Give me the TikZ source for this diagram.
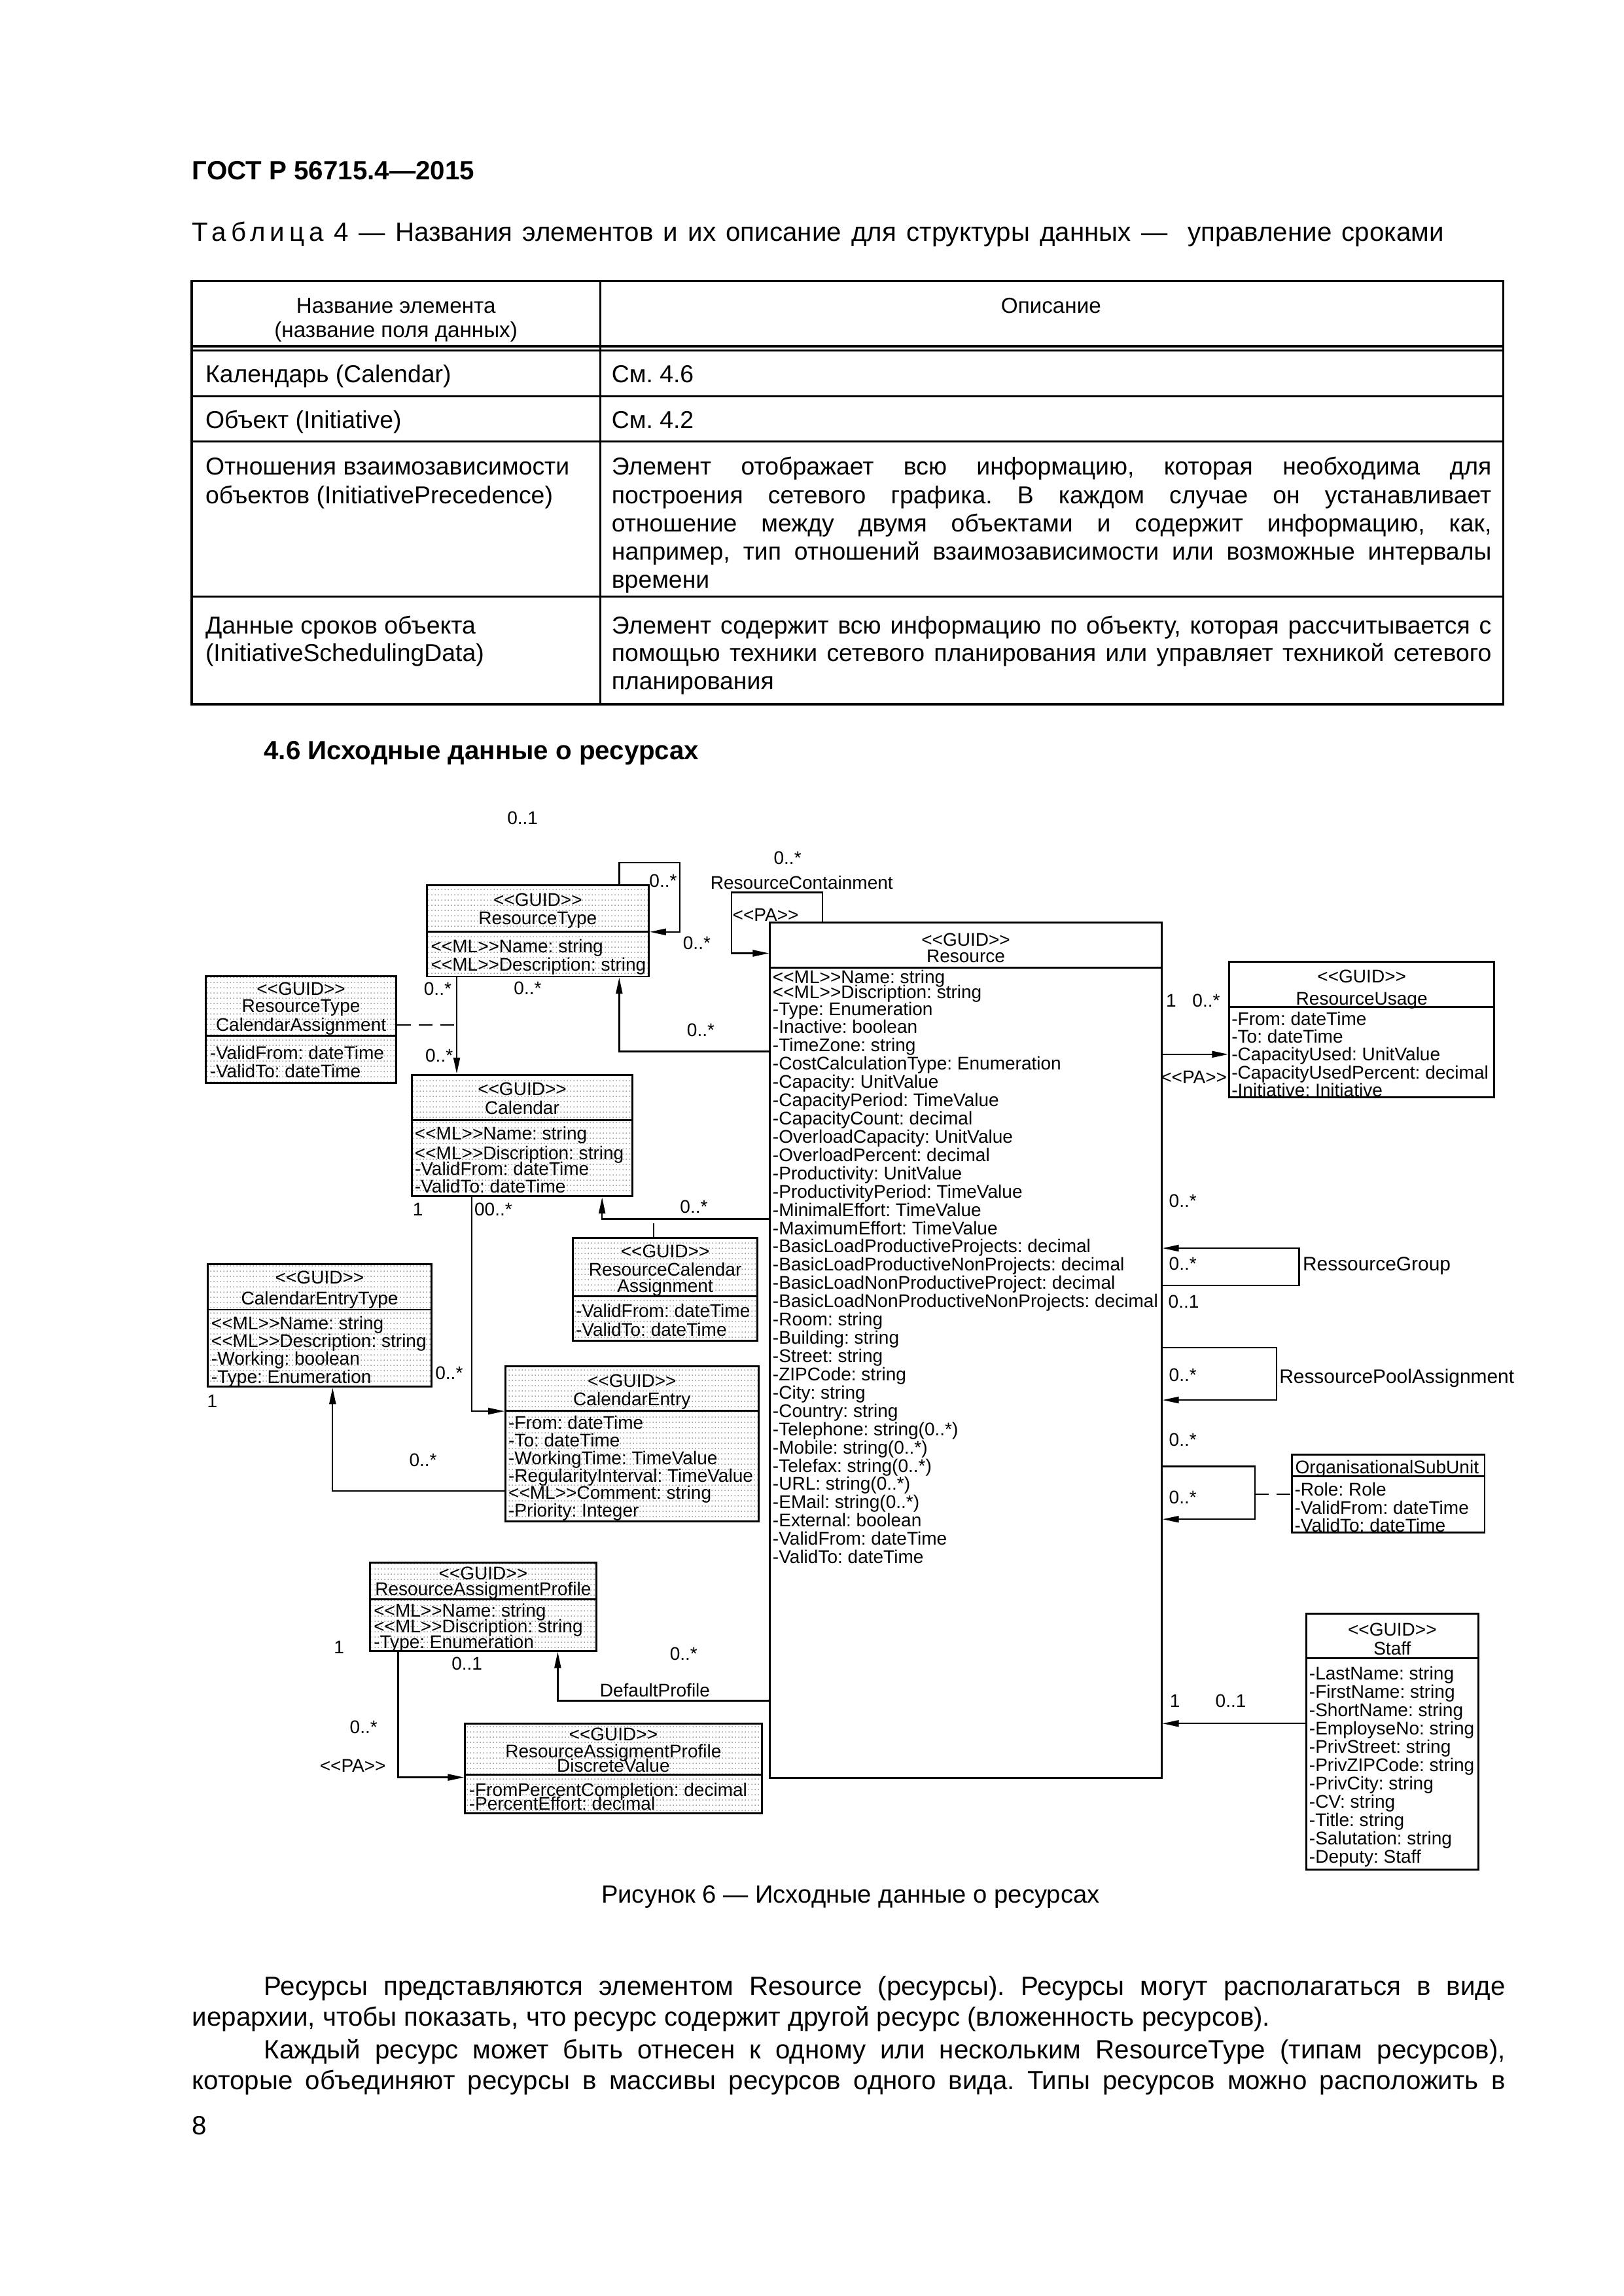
\documentclass[tikz,border=0pt]{standalone}
\usepackage{fontspec}
\setmainfont{Liberation Sans}
\newfontfamily\umlfont{Liberation Sans}
\usetikzlibrary{arrows.meta,fit,patterns}
\pgfdeclarepatternformonly{umldots}{\pgfqpoint{0pt}{0pt}}{\pgfqpoint{1.1pt}{2pt}}{\pgfqpoint{1.1pt}{2pt}}{\pgfpathcircle{\pgfqpoint{0.55pt}{1pt}}{0.22pt}\pgfusepath{fill}}
\newcommand\stereo[1]{<<#1>>}
\frenchspacing
\tikzset{
  cls/.style={draw, line width=0.7pt, inner sep=0pt},
  clsdot/.style={cls, pattern=umldots, pattern color=black!55},
  ttl/.style={inner sep=0pt, text height=0.62em, text depth=0pt, font=\umlfont\fontsize{6.75}{6.75}\selectfont},
  att/.style={ttl, anchor=west},
  nav/.style={line width=0.55pt, -{Triangle[length=6pt,width=2.4pt]}},
  lnk/.style={line width=0.55pt, dash pattern=on 5pt off 3pt},
  txt/.style={inner sep=0pt, text height=0.62em, text depth=0pt, anchor=west, font=\fontsize{9.7}{11}\selectfont},
  tabtxt/.style={txt, font=\fontsize{9}{10}\selectfont},
  tbl/.style={line width=0.8pt}
}
\begin{document}
\begin{tikzpicture}[x=0.5388pt, y=-0.5388pt, line join=miter]
\path[fill=white, use as bounding box] (0,0) rectangle (1109,1568);

% page head and table
\node[txt, font=\bfseries\fontsize{9.7}{11}\selectfont] (gost) at (131,117) {ГОСТ Р 56715.4—2015};
\node[txt] (tabcap) at (131,159) {\makebox[460.7pt][s]{{\addfontfeature{LetterSpace=18}Таблица} 4 — Названия элементов и их описание для структуры данных —\ \ управление сроками}};
\draw[tbl] (131,192) rectangle (1027,481);
\draw[tbl] (410,192) -- (410,481);
\draw[tbl] (131,236.5) -- (1027,236.5) (131,239.5) -- (1027,239.5);
\draw[tbl] (131,270.5) -- (1027,270.5) (131,301.5) -- (1027,301.5) (131,407.5) -- (1027,407.5);
\node[tabtxt, anchor=center, font=\fontsize{8}{9}\selectfont] (th1) at (270.5,208) {Название элемента};
\node[tabtxt, anchor=center, font=\fontsize{8}{9}\selectfont] (th2) at (270.5,224.5) {(название поля данных)};
\node[tabtxt, anchor=center, font=\fontsize{8}{9}\selectfont] (th3) at (718,208) {Описание};
\foreach \y/\t [count=\k] in {255.5/Календарь (Calendar), 287/Объект (Initiative), 318.5/Отношения взаимозависимости,
    338/объектов (InitiativePrecedence), 427/Данные сроков объекта, 446/(InitiativeSchedulingData)}
  \node[tabtxt] (tl\k) at (140,\y) {\t};
\node[tabtxt] (tr1) at (417.5,255.5) {См. 4.6};
\node[tabtxt] (tr2) at (417.5,287) {См. 4.2};
\foreach \y/\t [count=\k from 3] in {318.5/Элемент отображает всю информацию{,} которая необходима для,
    338/построения сетевого графика. В каждом случае он устанавливает,
    357.5/отношение между двумя объектами и содержит информацию{,} как{,},
    376.5/например{,} тип отношений взаимозависимости или возможные интервалы,
    427/Элемент содержит всю информацию по объекту{,} которая рассчитывается с,
    446/помощью техники сетевого планирования или управляет техникой сетевого}
  \node[tabtxt] (tr\k) at (417.5,\y) {\makebox[323.8pt][s]{\t}};
\node[tabtxt] (tr9) at (417.5,396) {времени};
\node[tabtxt] (tr10) at (417.5,465) {планирования};
\node[txt, font=\bfseries\fontsize{9.7}{11}\selectfont] (sec) at (180,513) {4.6 Исходные данные о ресурсах};

% classes
\node[clsdot, fit={(291.5,604.5) (443.2,666.9)}] (restype) {};
\node[clsdot, fit={(140.7,666.8) (270.6,739.7)}] (rtcal) {};
\node[clsdot, fit={(281.4,734) (432,817)}] (cal) {};
\node[cls, fit={(526,630) (793.5,1214)}] (res) {};
\node[cls, fit={(839.7,656.7) (1020.8,749.3)}] (resuse) {};
\node[clsdot, fit={(391.5,845.5) (517.3,915.5)}] (rescal) {};
\node[clsdot, fit={(142,863.3) (294.7,947.1)}] (cetype) {};
\node[clsdot, fit={(345.3,932.9) (518.1,1039.1)}] (centry) {};
\node[clsdot, fit={(252.7,1067.3) (407.4,1127.4)}] (rap) {};
\node[clsdot, fit={(317.7,1177) (520.3,1238.4)}] (rapdv) {};
\node[cls, fit={(882.4,993.4) (1014.2,1046.7)}] (orgsub) {};
\node[cls, fit={(892.4,1102) (1009.8,1276.7)}] (staff) {};
\foreach \n/\y in {restype/636.4, rtcal/707.2, cal/765, res/661, resuse/687.5, rescal/885.4,
    cetype/894.4, centry/963.5, rap/1092.3, rapdv/1212, orgsub/1008.3, staff/1132.6}
  \draw[line width=0.7pt] (\n.west |- 0,\y) -- (\n.east |- 0,\y);

% class titles
\foreach \n/\y/\t [count=\k] in {restype/613/\stereo{GUID}, restype/625.4/ResourceType,
    rtcal/673.8/\stereo{GUID}, rtcal/685.7/ResourceType, rtcal/698.5/CalendarAssignment,
    cal/742.3/\stereo{GUID}, cal/755/Calendar, res/640.4/\stereo{GUID}, res/651.3/Resource,
    resuse/665.5/\stereo{GUID}, resuse/680.5/ResourceUsage,
    rescal/853.2/\stereo{GUID}, rescal/865.5/ResourceCalendar, rescal/877/Assignment,
    cetype/871/\stereo{GUID}, cetype/885.1/CalendarEntryType,
    centry/941.5/\stereo{GUID}, centry/954.1/CalendarEntry,
    rap/1073/\stereo{GUID}, rap/1083.6/ResourceAssigmentProfile,
    rapdv/1182.8/\stereo{GUID}, rapdv/1194.6/ResourceAssigmentProfile, rapdv/1204.4/DiscreteValue,
    staff/1111.4/\stereo{GUID}, staff/1124.4/Staff}
  \node[ttl] (ttl\k) at (\n.north |- 0,\y) {\t};
\node[att] (orgsub-t) at (884.5,1000.5) {OrganisationalSubUnit};

% attributes
\foreach \t [count=\i] in {\stereo{ML}Name: string, \stereo{ML}Description: string}
  \node[att] (restype-a\i) at (294,{644.6+(\i-1)*12.8}) {\t};
\foreach \t [count=\i] in {-ValidFrom: dateTime, -ValidTo: dateTime}
  \node[att] (rtcal-a\i) at (143,{717.6+(\i-1)*12.8}) {\t};
\foreach \y/\t [count=\i] in {772.5/\stereo{ML}Name: string, 786/\stereo{ML}Discription: string,
    796.6/-ValidFrom: dateTime, 809/-ValidTo: dateTime}
  \node[att] (cal-a\i) at (283,\y) {\t};
\node[att] (res-a1) at (527.5,666) {\stereo{ML}Name: string};
\node[att] (res-a2) at (527.5,676.3) {\stereo{ML}Discription: string};
\foreach \t [count=\i from 3] in {-Type: Enumeration, -Inactive: boolean, -TimeZone: string,
    -CostCalculationType: Enumeration, -Capacity: UnitValue, -CapacityPeriod: TimeValue,
    -CapacityCount: decimal, -OverloadCapacity: UnitValue, -OverloadPercent: decimal,
    -Productivity: UnitValue, -ProductivityPeriod: TimeValue, -MinimalEffort: TimeValue,
    -MaximumEffort: TimeValue, -BasicLoadProductiveProjects: decimal,
    -BasicLoadProductiveNonProjects: decimal, -BasicLoadNonProductiveProject: decimal,
    -BasicLoadNonProductiveNonProjects: decimal, -Room: string, -Building: string,
    -Street: string, -ZIPCode: string, -City: string, -Country: string,
    -Telephone: string(0..*), -Mobile: string(0..*), -Telefax: string(0..*),
    -URL: string(0..*), -EMail: string(0..*), -External: boolean,
    -ValidFrom: dateTime, -ValidTo: dateTime}
  \node[att] (res-a\i) at (527.5,{687.5+(\i-3)*12.48}) {\t};
\foreach \t [count=\i] in {-From: dateTime, -To: dateTime, -CapacityUsed: UnitValue,
    -CapacityUsedPercent: decimal, -Initiative: Initiative}
  \node[att] (resuse-a\i) at (841,{694.3+(\i-1)*12.2}) {\t};
\foreach \t [count=\i] in {-ValidFrom: dateTime, -ValidTo: dateTime}
  \node[att] (rescal-a\i) at (393,{894+(\i-1)*12.6}) {\t};
\foreach \t [count=\i] in {\stereo{ML}Name: string, \stereo{ML}Description: string,
    -Working: boolean, -Type: Enumeration}
  \node[att] (cetype-a\i) at (144,{902.2+(\i-1)*12.2}) {\t};
\foreach \t [count=\i] in {-From: dateTime, -To: dateTime, -WorkingTime: TimeValue,
    -RegularityInterval: TimeValue, \stereo{ML}Comment: string, -Priority: Integer}
  \node[att] (centry-a\i) at (347,{970.4+(\i-1)*11.95}) {\t};
\foreach \t [count=\i] in {\stereo{ML}Name: string, \stereo{ML}Discription: string, -Type: Enumeration}
  \node[att] (rap-a\i) at (255,{1098.7+(\i-1)*10.6}) {\t};
\foreach \t [count=\i] in {-FromPercentCompletion: decimal, -PercentEffort: decimal}
  \node[att] (rapdv-a\i) at (320,{1221+(\i-1)*9.5}) {\t};
\foreach \t [count=\i] in {-Role: Role, -ValidFrom: dateTime, -ValidTo: dateTime}
  \node[att] (orgsub-a\i) at (884,{1016+(\i-1)*12.1}) {\t};
\foreach \t [count=\i] in {-LastName: string, -FirstName: string, -ShortName: string,
    -EmployseNo: string, -PrivStreet: string, -PrivZIPCode: string, -PrivCity: string,
    -CV: string, -Title: string, -Salutation: string, -Deputy: Staff}
  \node[att] (staff-a\i) at (894,{1141.2+(\i-1)*12.52}) {\t};

% associations
\coordinate (osloop) at (857.2,1020.3);
\draw[nav] (restype.north -| 423,0) |- (464.3,589) |- (restype.east |- 0,636.4);
\draw[nav] (restype.south -| 312,0) -- (cal.north -| 312,0);
\draw[lnk] (rtcal.east |- 0,700) -- (312,700);
\draw[nav] (res.west |- 0,718) -| (restype.south -| 423,0);
\draw[nav] (res.north -| 562,0) |- (499.8,609.5) |- (res.west |- 0,651);
\draw[nav] (res.west |- 0,832.5) -| (cal.south -| 411.3,0);
\draw[lnk] (rescal.north -| 446.5,0) -- (446.5,832.5);
\draw[nav] (cal.south -| 322.2,0) |- (centry.west |- 0,963.7);
\draw[nav] (centry.west |- 0,1018.3) -| (cetype.south -| 227.2,0);
\draw[nav] (res.west |- 0,1161.4) -| (rap.south -| 381,0);
\draw[nav] (rap.south -| 272,0) |- (rapdv.west |- 0,1213.8);
\draw[nav] (res.east |- 0,720) -- (resuse.west |- 0,720);
\draw[nav] (res.east |- 0,878) -| (887.5,852.4) -- (res.east |- 0,852.4);
\draw[nav] (res.east |- 0,920.2) -| (872,956.1) -- (res.east |- 0,956.1);
\draw[nav] (res.east |- 0,1001.5) -| (857.2,1037.5) -- (res.east |- 0,1037.5);
\draw[lnk] (osloop) -- (orgsub.west |- osloop);
\draw[nav] (staff.west |- 0,1177) -- (res.east |- 0,1177);

% multiplicities and role names
\foreach \x/\y/\t [count=\k] in {357/557/0..1, 453/600/0..*, 538/584.5/0..*,
    547.7/601.6/ResourceContainment, 523/623.3/\stereo{PA}, 476/642.7/0..*,
    299/673.8/0..*, 360.5/673.5/0..*, 300/719.5/0..*, 478.7/702/0..*,
    285.5/824.3/1, 337/824.3/00..*, 474/822.8/0..*,
    145/955.6/1, 306.8/936.3/0..*, 289/995.6/0..*,
    231.6/1123.6/1, 319/1134.9/0..1, 467/1128.1/0..*, 447.4/1153/DefaultProfile,
    248.4/1178/0..*, 241/1204.4/\stereo{PA},
    800/682/1, 824/682/0..*, 815.6/734.3/\stereo{PA},
    808/818.5/0..*, 808/861.6/0..*, 808.6/887.3/0..1, 808/937.6/0..*,
    808/982/0..*, 808/1021/0..*, 802.6/1160.2/1, 840.8/1160.2/0..1}
  \node[ttl] (m\k) at (\x,\y) {\t};
\node[att, font=\umlfont\fontsize{7.2}{7.2}\selectfont] (rgroup) at (889.6,862) {RessourceGroup};
\node[att, font=\umlfont\fontsize{7.2}{7.2}\selectfont] (rpool) at (873.6,939) {RessourcePoolAssignment};

% caption and text below
\node[txt, anchor=center, font=\fontsize{9.2}{11}\selectfont] (fig) at (581,1294) {Рисунок 6 — Исходные данные о ресурсах};
\node[txt] (p1) at (180,1357) {\makebox[456.9pt][s]{Ресурсы представляются элементом Resource (ресурсы). Ресурсы могут располагаться в виде}};
\node[txt] (p2) at (131,1378) {иерархии, чтобы показать, что ресурс содержит другой ресурс (вложенность ресурсов).};
\node[txt] (p3) at (180,1400) {\makebox[456.9pt][s]{Каждый ресурс может быть отнесен к одному или нескольким ResourceType (типам ресурсов),}};
\node[txt] (p4) at (131,1421) {\makebox[483.3pt][s]{которые объединяют ресурсы в массивы ресурсов одного вида. Типы ресурсов можно расположить в}};
\node[txt] (pg) at (131,1452) {8};
\end{tikzpicture}
\end{document}
